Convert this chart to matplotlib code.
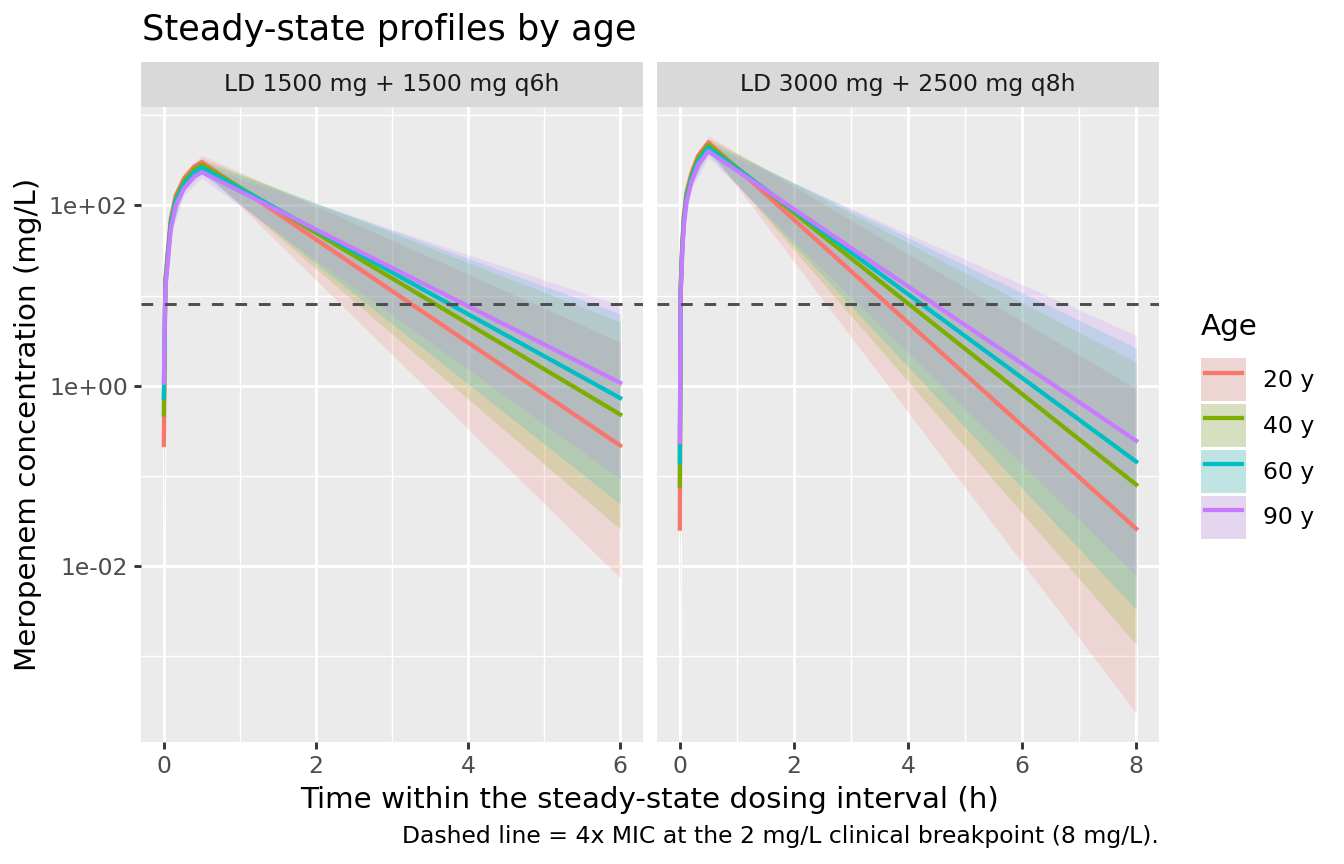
import numpy as np
import matplotlib.pyplot as plt
import matplotlib.patches as mpatches
from matplotlib.lines import Line2D
from matplotlib.legend_handler import HandlerLine2D
from matplotlib.ticker import FixedLocator, MultipleLocator, FuncFormatter, NullFormatter

# ages and colours (ggplot hue palette)
ages = ['20 y', '40 y', '60 y', '90 y']
colors = ['#F8766D', '#7CAE00', '#00BFC4', '#C77CFF']

panel_titles = ['LD 1500 mg + 1500 mg q6h', 'LD 3000 mg + 2500 mg q8h']
breakpoint_4x = 8.0

# q6h regimen: median concentration (mg/L) per age
q6h_t = [0, 0.02, 0.057, 0.092, 0.158, 0.267, 0.40, 0.5, 6]
q6h_med = {
    '20 y': [0.22, 15, 34, 71, 129, 200, 270, 302, 0.217],
    '40 y': [0.48, 14, 31, 66, 120, 186, 251, 282, 0.48],
    '60 y': [0.73, 13, 29, 62, 112, 174, 234, 263, 0.73],
    '90 y': [1.08, 12, 26, 55, 100, 155, 209, 234, 1.08],
}
# q6h 90% band
q6h_band_t = [0, 0.02, 0.092, 0.267, 0.5, 6]
q6h_lo = {
    '20 y': [0.0075, 12.5, 60, 170, 257, 0.0074],
    '40 y': [0.026, 11.9, 56, 158, 240, 0.0257],
    '60 y': [0.049, 11, 53, 148, 224, 0.049],
    '90 y': [0.093, 10.2, 47, 132, 199, 0.093],
}
q6h_hi = {
    '20 y': [3.05, 17.5, 82, 230, 360, 3.05],
    '40 y': [5.1, 16.3, 77, 216, 330, 5.09],
    '60 y': [6.3, 15, 72, 202, 308, 6.3],
    '90 y': [7.8, 14, 64, 180, 274, 7.8],
}

# q8h regimen
q8h_t = [0, 0.015, 0.041, 0.07, 0.117, 0.205, 0.32, 0.5, 8]
q8h_med = {
    '20 y': [0.026, 12.6, 35, 76, 139, 229, 355, 500, 0.026],
    '40 y': [0.078, 11.8, 33, 71, 130, 215, 333, 468, 0.080],
    '60 y': [0.141, 11, 31, 66, 121, 200, 310, 437, 0.144],
    '90 y': [0.237, 10, 28, 60, 110, 182, 282, 398, 0.245],
}
q8h_band_t = [0, 0.015, 0.07, 0.205, 0.5, 8]
q8h_lo = {
    '20 y': [0.00024, 10.7, 65, 195, 425, 0.000234],
    '40 y': [0.0013, 10, 60, 183, 398, 0.00135],
    '60 y': [0.0033, 9.4, 56, 170, 371, 0.0033],
    '90 y': [0.0078, 8.5, 51, 155, 338, 0.0078],
}
q8h_hi = {
    '20 y': [0.93, 14.5, 88, 265, 590, 0.927],
    '40 y': [1.8, 13.6, 82, 247, 550, 1.82],
    '60 y': [2.6, 12.7, 76, 230, 515, 2.63],
    '90 y': [3.6, 11.5, 69, 209, 468, 3.63],
}

panels = [
    (q6h_t, q6h_med, q6h_band_t, q6h_lo, q6h_hi),
    (q8h_t, q8h_med, q8h_band_t, q8h_lo, q8h_hi),
]

# shared log y range with ggplot's 5% expansion
all_lo = min(min(v) for d in (q6h_lo, q8h_lo) for v in d.values())
all_hi = max(max(v) for d in (q6h_hi, q8h_hi) for v in d.values())
l0, l1 = np.log10(all_lo), np.log10(all_hi)
pad = 0.05 * (l1 - l0)
ylim = (10 ** (l0 - pad), 10 ** (l1 + pad))

W, H = 1344, 864
fig = plt.figure(figsize=(7, 4.5), dpi=192)
panel_x = [141, 657]
pw, top, bot = 502, 107, 742

axes = []
for i, (t, med, bt, lo, hi) in enumerate(panels):
    ax = fig.add_axes([panel_x[i] / W, (H - bot) / H, pw / W, (bot - top) / H])
    ax.set_facecolor('#EBEBEB')
    for s in ax.spines.values():
        s.set_visible(False)
    ax.set_yscale('log')
    for a, c in zip(ages, colors):
        ax.fill_between(bt, lo[a], hi[a], color=c, alpha=0.18, lw=0, zorder=2)
    for a, c in zip(ages, colors):
        ax.plot(t, med[a], color=c, lw=1.6, zorder=3)
    ax.axhline(breakpoint_4x, color='#4D4D4D', lw=1.1, ls=(0, (4, 4)), zorder=4)

    tmax = max(t)
    ax.set_xlim(-0.05 * tmax, 1.05 * tmax)
    ax.set_ylim(*ylim)
    ax.xaxis.set_major_locator(MultipleLocator(2))
    ax.xaxis.set_minor_locator(MultipleLocator(1))
    ax.yaxis.set_major_locator(FixedLocator([1e-2, 1e0, 1e2]))
    ax.yaxis.set_minor_locator(FixedLocator([1e-3, 1e-1, 1e1, 1e3]))
    ax.yaxis.set_minor_formatter(NullFormatter())
    ax.yaxis.set_major_formatter(FuncFormatter(lambda v, p: f'{v:.0e}'))
    ax.grid(which='major', color='white', lw=1.07, zorder=1)
    ax.grid(which='minor', color='white', lw=0.53, zorder=1)
    ax.set_axisbelow(True)
    ax.tick_params(which='major', length=2.75, width=1.07, color='#333333',
                   labelsize=8.8, labelcolor='#4D4D4D', pad=2.2)
    ax.tick_params(which='minor', length=0)
    if i == 1:
        ax.tick_params(axis='y', which='both', left=False, labelleft=False)

    # facet strip
    sax = fig.add_axes([panel_x[i] / W, (H - top) / H, pw / W, 45 / H])
    sax.set_facecolor('#D9D9D9')
    sax.set_xticks([])
    sax.set_yticks([])
    for s in sax.spines.values():
        s.set_visible(False)
    sax.text(0.5, 0.5, panel_titles[i], ha='center', va='center',
             fontsize=8.8, color='#1A1A1A', transform=sax.transAxes)
    axes.append(ax)

fig.text(142 / W, 1 - 30 / H, 'Steady-state profiles by age', fontsize=13.2,
         ha='left', va='center', color='black')
fig.text(650 / W, 1 - 800 / H, 'Time within the steady-state dosing interval (h)',
         fontsize=11, ha='center', va='center')
fig.text(28 / W, 1 - 424 / H, 'Meropenem concentration (mg/L)', fontsize=11,
         rotation=90, ha='center', va='center')
fig.text(1159 / W, 1 - 836 / H,
         'Dashed line = 4x MIC at the 2 mg/L clinical breakpoint (8 mg/L).',
         fontsize=8.8, ha='right', va='center')

handles = []
for c in colors:
    bg = mpatches.Patch(facecolor='#EBEBEB', edgecolor='none')
    fillp = mpatches.Patch(facecolor=c, alpha=0.18, edgecolor='none')
    ln = Line2D([], [], color=c, lw=1.6)
    handles.append((bg, fillp, ln))
leg = fig.legend(handles, ages, loc='upper left',
                 bbox_to_anchor=(1201 / W, 1 - 313 / H), frameon=False,
                 fontsize=8.8, title='Age', title_fontsize=11,
                 handlelength=1.92, handleheight=2.44, labelspacing=0.12,
                 handletextpad=0.72, borderpad=0, borderaxespad=0,
                 alignment='left',
                 handler_map={Line2D: HandlerLine2D(marker_pad=0.18, numpoints=2)})
leg._legend_box.sep = 6.5

fig.savefig('out.png', dpi=192)
